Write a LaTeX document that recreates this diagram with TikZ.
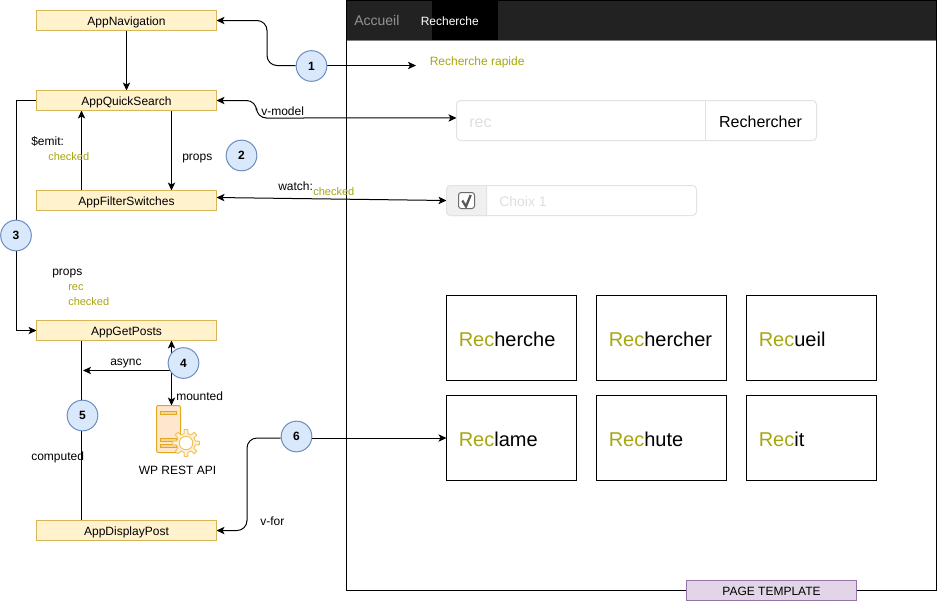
\documentclass[tikz,border=0pt]{standalone}
\usepackage{fontspec}
\setmainfont{Liberation Sans}
\usetikzlibrary{arrows.meta,backgrounds}
\definecolor{boxfill}{HTML}{FFF2CC}
\definecolor{boxline}{HTML}{D6B656}
\definecolor{badgefill}{HTML}{DAE8FC}
\definecolor{badgeline}{HTML}{6C8EBF}
\definecolor{olivetext}{HTML}{A6A60F}
\definecolor{formline}{HTML}{E2E2E2}
\definecolor{formtext}{HTML}{DEDEDE}
\definecolor{tabfill}{HTML}{222222}
\definecolor{pagefill}{HTML}{E1D5E7}
\definecolor{pageline}{HTML}{9673A6}
\definecolor{srvfill}{HTML}{FFE6CC}
\definecolor{srvline}{HTML}{E0A81E}
\definecolor{gearline}{HTML}{EFC55A}
\tikzset{
  comp/.style={draw=boxline,fill=boxfill,line width=0.75pt,minimum width=135pt,minimum height=15pt,inner sep=0pt,outer sep=0pt,text height=8.4pt,text depth=1.6pt,font=\fontsize{9}{10}\selectfont},
  badge/.style={circle,draw=badgeline,fill=badgefill,line width=0.75pt,minimum size=23pt,inner sep=0pt,font=\fontsize{9}{10}\selectfont\bfseries},
  link/.style={draw=black,line width=0.75pt,rounded corners=7.5pt},
  tip/.style={-{Stealth[length=6pt,width=5.5pt,inset=1.5pt]}},
  bitip/.style={{Stealth[length=6pt,width=5.5pt,inset=1.5pt]}-{Stealth[length=6pt,width=5.5pt,inset=1.5pt]}},
  lab/.style={anchor=west,inner sep=0pt,text height=8.4pt,text depth=1.6pt,font=\fontsize{9}{10}\selectfont},
  olive/.style={lab,text=olivetext,font=\fontsize{8.25}{10}\selectfont},
  formbox/.style={draw=formline,line width=0.75pt,rounded corners=3pt,anchor=north west,inner sep=0pt,outer sep=0pt},
  card/.style={draw=black,line width=0.75pt,minimum width=97.5pt,minimum height=63.75pt,inner sep=0pt,outer sep=0pt},
  cardtxt/.style={anchor=west,inner sep=0pt,font=\fontsize{15}{18}\selectfont},
}
\newcommand{\rec}{\textcolor{olivetext}{Rec}}
\begin{document}
\begin{tikzpicture}[x=0.75pt,y=-0.75pt]
\useasboundingbox (0,0) rectangle (937,601);

% Page frame and navbar
\fill[tabfill] (347,1) rectangle (937,40);
\draw[gray,line width=0.75pt] (347,40.5) -- (937,40.5);
\fill[black] (432,1) rectangle (498,40);
\node[draw=black,line width=0.75pt,anchor=north west,minimum width=442.5pt,minimum height=442.5pt,inner sep=0pt,outer sep=0pt] (frame) at (346.5,0.5) {};
\node[lab,text=gray!85,font=\fontsize{10.5}{12}\selectfont] (home) at (354,21) {Accueil};
\node[lab,text=white] (searchtab) at (420.5,21) {Recherche};
\node[lab,text=olivetext] (quicktitle) at (429.5,61) {Recherche rapide};

% Search form
\node[formbox,minimum width=270pt,minimum height=30pt] (inputrec) at (456.5,100.5) {};
\draw[formline,line width=0.75pt] (705.5,100.5) -- (705.5,140.5);
\node[anchor=west,inner sep=0pt,text=formtext,text height=10.6pt,text depth=2pt,font=\fontsize{12}{14}\selectfont] (rectxt) at (469,122) {rec};
\node[inner sep=0pt,text height=10.6pt,text depth=2pt,font=\fontsize{12}{14}\selectfont] (submit) at (760.5,122) {Rechercher};

% Switch
\node[formbox,minimum width=187.5pt,minimum height=22.5pt] (choice) at (446.5,185.5) {};
\draw[formline,fill=gray!12,line width=0.75pt] (486.5,185.5) [rounded corners=3pt] -- (446.5,185.5) -- (446.5,215.5) [sharp corners] -- (486.5,215.5) -- cycle;
\draw[gray!85!black,fill=white,line width=0.75pt,rounded corners=2pt] (458.5,192.5) rectangle (474.5,208.5);
\draw[gray!70!black,line width=1.7pt] (462.3,200.5) -- (466,206.5) -- (470.7,195);
\node[lab,text=formtext,font=\fontsize{10.5}{12}\selectfont] (choicetxt) at (499,202) {Choix 1};

% Result cards
\foreach \name/\x/\y in {c1/511.5/338, c2/661.5/338, c3/811.5/338, c4/511.5/438, c5/661.5/438, c6/811.5/438} {
  \node[card] (\name) at (\x,\y) {};
}
\node[cardtxt] (t1) at (458.5,339) {\rec herche};
\node[cardtxt] (t2) at (608.5,339) {\rec hercher};
\node[cardtxt] (t3) at (758.5,339) {\rec ueil};
\node[cardtxt] (t4) at (458.5,439) {\rec lame};
\node[cardtxt] (t5) at (608.5,439) {\rec hute};
\node[cardtxt] (t6) at (758.5,439) {\rec it};

\node[comp,draw=pageline,fill=pagefill,minimum width=127.5pt] (pagetpl) at (771.5,590.5) {PAGE TEMPLATE};

% Components
\node[comp] (nav) at (126.5,20.5) {AppNavigation};
\node[comp] (quick) at (126.5,100.5) {AppQuickSearch};
\node[comp] (filter) at (126.5,200.5) {AppFilterSwitches};
\node[comp] (posts) at (126.5,330.5) {AppGetPosts};
\node[comp] (display) at (126.5,530.5) {AppDisplayPost};

% Server icon
\draw[srvline,fill=srvfill,line width=0.75pt,rounded corners=1.5pt] (156.5,405.5) rectangle (180.5,452.5);
\foreach \y in {411,438,444} {
  \draw[srvline,fill=srvfill!70!srvline,line width=0.6pt] (160.5,\y) rectangle (176,\y+3.5);
}
\draw[gearline,fill=srvfill!60!white,line width=0.75pt,line join=round] ([shift={(-12:9.5)}]186,443)
  \foreach \a in {0,45,...,315} {
    -- ([shift={(\a-12:9.5)}]186,443) -- ([shift={(\a-8:13.5)}]186,443) -- ([shift={(\a+8:13.5)}]186,443) -- ([shift={(\a+12:9.5)}]186,443)
  } -- cycle;
\draw[gearline,fill=white,line width=0.75pt] (186,443) circle (6.8);
\coordinate (srv) at (171.5,405.5);
\node[inner sep=0pt,text height=8.4pt,text depth=1.6pt,font=\fontsize{9}{10}\selectfont] (srvlabel) at (177.5,470) {WP REST API};

% Free ends and the two shared columns
\coordinate (colL) at (81.5,0);
\coordinate (colR) at (171.5,0);
\coordinate (quickend) at (416,65.5);
\coordinate (asyncend) at (83,370.5);
\coordinate (asyncstart) at (171.5,370.5);

% Badges
\node[badge] (b1) at (311.5,66) {1};
\node[badge] (b2) at (241.5,155.5) {2};
\node[badge] (b3) at (16,235.5) {3};
\node[badge] (b4) at (183.5,363) {4};
\node[badge] (b5) at (82.5,415.5) {5};
\node[badge] (b6) at (296.5,436.5) {6};

% Connectors
\begin{pgfonlayer}{background}
\draw[link,tip] (nav.south) -- (quick.north);
\draw[link,tip] (b1.west |- quickend) -- (267,65.5) -- (267,20.5) -- (nav.east);
\draw[link,tip] (b1.east |- quickend) -- (quickend);
\draw[link,bitip] (quick.east) -- (256.5,100.5) -- (256.5,118) -- ([yshift=1.9pt]inputrec.west);
\draw[link,tip] (quick.south -| colR) -- (filter.north -| colR);
\draw[link,tip] (filter.north -| colL) -- (quick.south -| colL);
\draw[link,bitip] ([yshift=2.25pt]filter.east) -- (choice.west);
\draw[link,rounded corners=0pt] (quick.west) -| (b3.north);
\draw[link,rounded corners=0pt,tip] (b3.south) |- (posts.west);
\draw[link] (posts.south -| colL) -- (display.north -| colL);
\draw[link,tip] (asyncstart) -- (asyncend);
\draw[link,bitip] (posts.south -| colR) -- (srv);
\draw[link,tip] (b6.west |- c4.west) -- (247,438) -- (247,530.5) -- (display.east);
\draw[link,tip] (b6.east |- c4.west) -- (c4.west);
\end{pgfonlayer}

% Labels
\node[lab] (emit) at (31,141) {\$emit:};
\node[olive] (emitval) at (48,156) {checked};
\node[lab] (propsa) at (182,156) {props};
\node[lab] (vmodel) at (261,111) {v-model};
\node[lab] (watch) at (278,186) {watch:};
\node[olive] (watchval) at (313,191) {checked};
\node[lab] (propsb) at (52,271) {props};
\node[olive] (propsrec) at (68,286) {rec};
\node[olive] (propschk) at (68,301) {checked};
\node[lab] (async) at (110,361) {async};
\node[lab] (mounted) at (176,396) {mounted};
\node[lab] (computed) at (31,456) {computed};
\node[lab] (vfor) at (260,521) {v-for};
\end{tikzpicture}
\end{document}
